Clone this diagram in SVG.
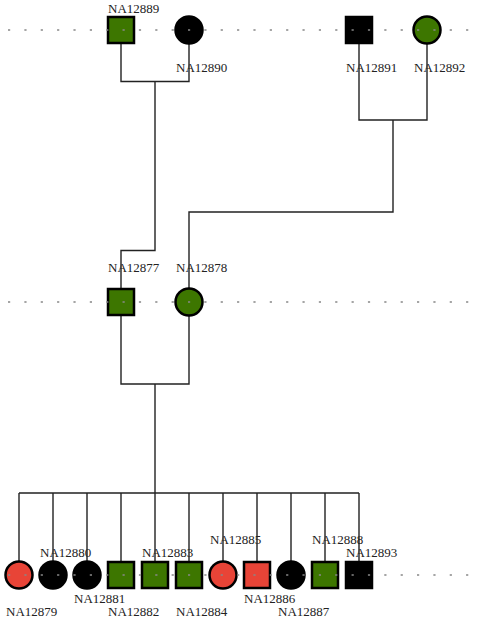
<svg xmlns="http://www.w3.org/2000/svg" width="480" height="631" viewBox="0 0 480 631">
<style>
.bg{fill:#fff}
.gen{stroke:#888;stroke-width:1.5;stroke-dasharray:2.2 14.16;fill:none}
.ln{stroke:#222;stroke-width:1.4;fill:none}
.nd{stroke:#000;stroke-width:2.5}
.g{fill:#3d7600}
.r{fill:#e84437}
.k{fill:#000}
text{font-family:"Liberation Serif","Times New Roman",serif;font-size:13px;fill:#222}
</style>
<rect class="bg" width="480" height="631"/>
<g id="connectors">
<path class="ln" d="M121,44V81.5H189V44M155,81.5V250.5H121V288"/>
<path class="ln" d="M359,44V120H427V44M393,120V212H189V288"/>
<path class="ln" d="M121,316V384H189V316M155,384V493"/>
<path class="ln" d="M19,493H359M19,493V561M53,493V561M87,493V561M121,493V561M155,493V561M189,493V561M223,493V561M257,493V561M291,493V561M325,493V561M359,493V561"/>
</g>
<g id="NA12889"><rect class="nd g" x="108" y="17" width="26" height="26"/><text x="108" y="13">NA12889</text></g>
<g id="NA12890"><circle class="nd k" cx="189" cy="30" r="13.5"/><text x="176" y="72">NA12890</text></g>
<g id="NA12891"><rect class="nd k" x="346" y="17" width="26" height="26"/><text x="346" y="72">NA12891</text></g>
<g id="NA12892"><circle class="nd g" cx="427" cy="30" r="13.5"/><text x="414" y="72">NA12892</text></g>
<g id="NA12877"><rect class="nd g" x="108" y="289" width="26" height="26"/><text x="108" y="272">NA12877</text></g>
<g id="NA12878"><circle class="nd g" cx="189" cy="302" r="13.5"/><text x="176" y="272">NA12878</text></g>
<g id="NA12879"><circle class="nd r" cx="19" cy="575" r="13.5"/><text x="6" y="616">NA12879</text></g>
<g id="NA12880"><circle class="nd k" cx="53" cy="575" r="13.5"/><text x="40" y="557">NA12880</text></g>
<g id="NA12881"><circle class="nd k" cx="87" cy="575" r="13.5"/><text x="74" y="603">NA12881</text></g>
<g id="NA12882"><rect class="nd g" x="108" y="562" width="26" height="26"/><text x="108" y="616">NA12882</text></g>
<g id="NA12883"><rect class="nd g" x="142" y="562" width="26" height="26"/><text x="142" y="557">NA12883</text></g>
<g id="NA12884"><rect class="nd g" x="176" y="562" width="26" height="26"/><text x="176" y="616">NA12884</text></g>
<g id="NA12885"><circle class="nd r" cx="223" cy="575" r="13.5"/><text x="210" y="544">NA12885</text></g>
<g id="NA12886"><rect class="nd r" x="244" y="562" width="26" height="26"/><text x="244" y="603">NA12886</text></g>
<g id="NA12887"><circle class="nd k" cx="291" cy="575" r="13.5"/><text x="278" y="616">NA12887</text></g>
<g id="NA12888"><rect class="nd g" x="312" y="562" width="26" height="26"/><text x="312" y="544">NA12888</text></g>
<g id="NA12893"><rect class="nd k" x="346" y="562" width="26" height="26"/><text x="346" y="557">NA12893</text></g>
<g id="generations">
<line class="gen" x1="8" y1="30" x2="472" y2="30"/>
<line class="gen" x1="8" y1="302" x2="472" y2="302"/>
<line class="gen" x1="8" y1="575" x2="472" y2="575"/>
</g>
</svg>
